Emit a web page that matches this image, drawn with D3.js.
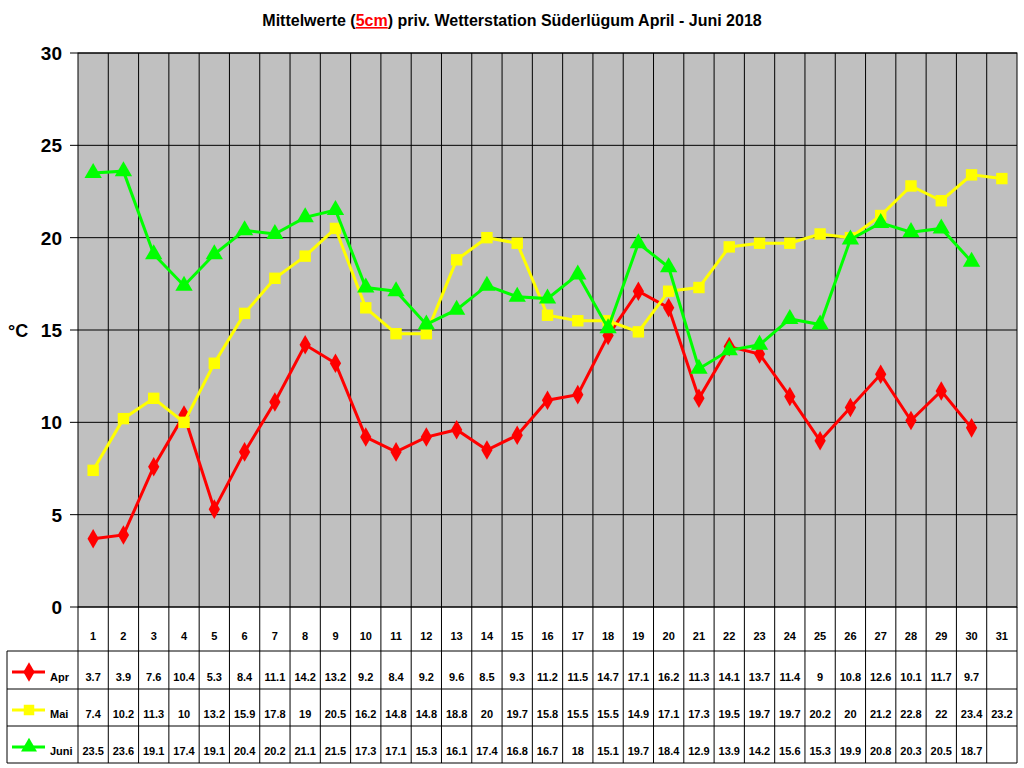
<html>
<head>
<script src="https://cdnjs.cloudflare.com/ajax/libs/d3/7.8.5/d3.min.js"></script>
<style>body{margin:0;background:#fff}</style>
</head>
<body>
<svg id="chart" width="1024" height="768"></svg>
<script>
const days = d3.range(1, 32)
const apr = [3.7,3.9,7.6,10.4,5.3,8.4,11.1,14.2,13.2,9.2,8.4,9.2,9.6,8.5,9.3,11.2,11.5,14.7,17.1,16.2,11.3,14.1,13.7,11.4,9,10.8,12.6,10.1,11.7,9.7]
const mai = [7.4,10.2,11.3,10,13.2,15.9,17.8,19,20.5,16.2,14.8,14.8,18.8,20,19.7,15.8,15.5,15.5,14.9,17.1,17.3,19.5,19.7,19.7,20.2,20,21.2,22.8,22,23.4,23.2]
const juni = [23.5,23.6,19.1,17.4,19.1,20.4,20.2,21.1,21.5,17.3,17.1,15.3,16.1,17.4,16.8,16.7,18,15.1,19.7,18.4,12.9,13.9,14.2,15.6,15.3,19.9,20.8,20.3,20.5,18.7]
const yTicks = [0,5,10,15,20,25,30]

const series = [
  {name: "Apr", values: apr, color: "#ff0000", shape: d3.symbolDiamond},
  {name: "Mai", values: mai, color: "#ffff00", shape: d3.symbolSquare},
  {name: "Juni", values: juni, color: "#00ff00", shape: d3.symbolTriangle}
]

let svg = d3.select("#chart")
let pLeft = 78, pRight = 1017, pTop = 53, pBottom = 607
let x = d3.scaleBand().domain(days).range([pLeft, pRight])
let y = d3.scaleLinear().domain([0, 30]).range([pBottom, pTop])
const font = "Liberation Sans, Arial"

// title
let title = svg.append("text").attr("x", 512).attr("y", 26).attr("text-anchor", "middle")
  .attr("font-family", font).attr("font-weight", "bold").attr("font-size", 16)
title.append("tspan").text("Mittelwerte (")
title.append("tspan").text("5cm").attr("fill", "#ff0000").attr("text-decoration", "underline")
title.append("tspan").text(") priv. Wetterstation Süderlügum April - Juni 2018")

svg.append("rect").attr("x", pLeft).attr("y", pTop).attr("width", pRight - pLeft).attr("height", pBottom - pTop)
  .attr("fill", "#c0c0c0").attr("stroke", "#000")

svg.selectAll(".hg").data(yTicks).enter().append("line")
  .attr("x1", pLeft - 8).attr("x2", pRight).attr("y1", d => y(d)).attr("y2", d => y(d))
  .attr("stroke", "#000")
svg.selectAll(".yl").data(yTicks).enter().append("text")
  .attr("x", 62).attr("y", d => y(d) + 7).attr("text-anchor", "end")
  .attr("font-family", font).attr("font-weight", "bold").attr("font-size", 19)
  .text(d => d)
svg.append("text").attr("x", 8).attr("y", 337).text("°C")
  .attr("font-family", font).attr("font-weight", "bold").attr("font-size", 18)

// vertical column lines (plot + table)
let rowY = [607, 651, 689, 726, 763]
svg.selectAll(".vg").data(days.slice(1)).enter().append("line")
  .attr("x1", d => x(d)).attr("x2", d => x(d)).attr("y1", pTop).attr("y2", rowY[4])
  .attr("stroke", "#000")
svg.append("line").attr("x1", pLeft).attr("x2", pLeft).attr("y1", pBottom).attr("y2", rowY[4]).attr("stroke", "#000")
svg.append("line").attr("x1", pRight).attr("x2", pRight).attr("y1", pBottom).attr("y2", rowY[4]).attr("stroke", "#000")
svg.append("line").attr("x1", 7).attr("x2", 7).attr("y1", rowY[1]).attr("y2", rowY[4]).attr("stroke", "#000")
rowY.slice(1).forEach(ry => svg.append("line").attr("x1", 7).attr("x2", pRight).attr("y1", ry).attr("y2", ry).attr("stroke", "#000"))

svg.selectAll(".dl").data(days).enter().append("text")
  .attr("x", d => x(d) + x.bandwidth() / 2).attr("y", 640).attr("text-anchor", "middle")
  .attr("font-family", font).attr("font-weight", "bold").attr("font-size", 11).text(d => d)

let line = d3.line().x((d, i) => x(days[i]) + x.bandwidth() / 2).y(d => y(d))
series.forEach((s, k) => {
  svg.append("path").datum(s.values).attr("d", line).attr("fill", "none")
    .attr("stroke", s.color).attr("stroke-width", 3)
  svg.selectAll(".m" + k).data(s.values).enter().append("path")
    .attr("transform", (d, i) => `translate(${x(days[i]) + x.bandwidth() / 2},${y(d)})`)
    .attr("d", d3.symbol().type(s.shape).size(k == 0 ? 110 : 130)).attr("fill", s.color)
  let ty = rowY[k + 2] - 8
  svg.selectAll(".v" + k).data(s.values).enter().append("text")
    .attr("x", (d, i) => x(days[i]) + x.bandwidth() / 2).attr("y", ty).attr("text-anchor", "middle")
    .attr("font-family", font).attr("font-weight", "bold").attr("font-size", 11).text(d => d)
  let ly = rowY[k + 1] + 21
  svg.append("line").attr("x1", 12).attr("x2", 45).attr("y1", ly).attr("y2", ly)
    .attr("stroke", s.color).attr("stroke-width", 3)
  svg.append("path").attr("transform", `translate(29,${ly})`)
    .attr("d", d3.symbol().type(s.shape).size(110)).attr("fill", s.color)
  svg.append("text").attr("x", 50).attr("y", ty).text(s.name)
    .attr("font-family", font).attr("font-weight", "bold").attr("font-size", 11)
})
</script>
</body>
</html>
